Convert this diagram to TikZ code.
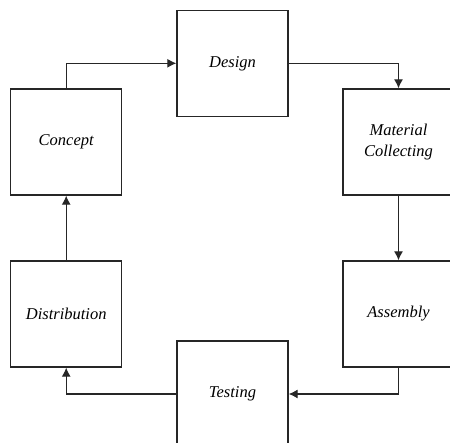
\documentclass[tikz,border=0pt]{standalone}
\usepackage{fontspec}
\setmainfont{Liberation Serif}
\usetikzlibrary{arrows.meta}
\begin{document}
\begin{tikzpicture}[x=1pt,y=-1pt,
  stage/.style={draw=black!85, line width=1.3pt, rectangle, minimum width=111pt, minimum height=106pt,
    inner sep=2pt, align=center, font=\fontsize{16.5}{21}\selectfont\itshape},
  arr/.style={draw=black!85, line width=1.2pt, -{Latex[length=9pt,width=9pt]}}]
\useasboundingbox (0,0) rectangle (450,443);
\clip (0,0) rectangle (450,443);
\node[stage] (design) at (232.5,63.3) {Design};
\node[stage] (concept) at (66.2,142) {Concept};
\node[stage] (material) at (398.5,142) {Material\\Collecting};
\node[stage] (distribution) at (66.2,314) {Distribution};
\node[stage] (assembly) at (398.5,314) {Assembly};
\node[stage] (testing) at (232.5,394) {Testing};
\draw[arr] (concept.north) |- (design.west);
\draw[arr] (design.east) -| (material.north);
\draw[arr] (material.south) -- (assembly.north);
\draw[arr] (assembly.south) |- (testing.east);
\draw[arr] (testing.west) -| (distribution.south);
\draw[arr] (distribution.north) -- (concept.south);
\end{tikzpicture}
\end{document}
